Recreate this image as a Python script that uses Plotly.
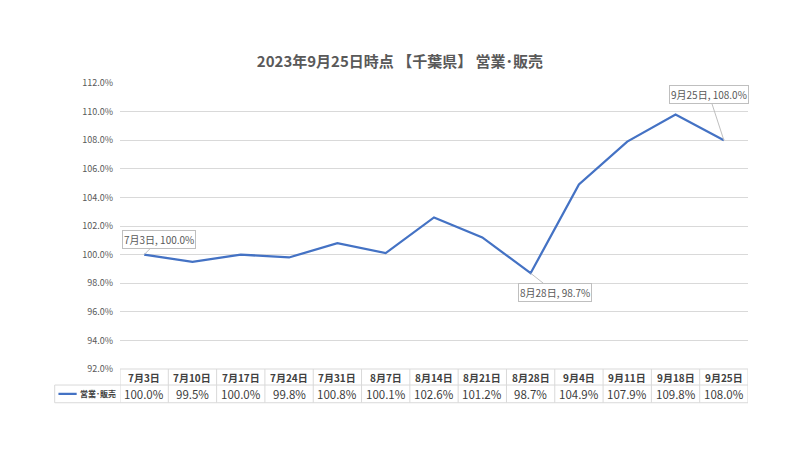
import plotly.graph_objects as go

# -----------------------------
# Data
# -----------------------------

weeks = ["7月3日", "7月10日", "7月17日", "7月24日", "7月31日", "8月7日", "8月14日",
         "8月21日", "8月28日", "9月4日", "9月11日", "9月18日", "9月25日"]
sales = [100.0, 99.5, 100.0, 99.8, 100.8, 100.1, 102.6, 101.2, 98.7, 104.9, 107.9, 109.8, 108.0]
series_name = "営業･販売"
title_text = "2023年9月25日時点 【千葉県】 営業･販売"

# callouts: index -> (ax, ay)
callouts = {0: (15, -15), 8: (24, 19), 12: (-15, -46)}

FONT = "Noto Sans CJK JP"
GREY = "#595959"
LINE = "#4472C4"
BORDER = "#d9d9d9"

fig = go.Figure()

fig.add_trace(go.Scatter(
    x=weeks,
    y=sales,
    mode="lines",
    line=dict(color=LINE, width=2.25),
    name=series_name,
    showlegend=False,
))

# -----------------------------
# Data labels (callouts)
# -----------------------------

for i, (ax, ay) in callouts.items():
    fig.add_annotation(
        x=weeks[i], y=sales[i],
        text=f"{weeks[i]}, {sales[i]:.1f}%",
        showarrow=True, arrowhead=0, arrowwidth=1, arrowcolor="#bfbfbf",
        ax=ax, ay=ay,
        font=dict(family=FONT, size=10, color=GREY),
        bgcolor="white", bordercolor="#bfbfbf", borderwidth=1, borderpad=1,
    )

# -----------------------------
# Data table below the plot
# -----------------------------

top, mid, bot = 0.0, -0.056, -0.118
leg_left = -0.104

shapes = []
n = len(weeks)
for i in range(n + 1):
    shapes.append(dict(type="line", xref="x", yref="paper", x0=i - 0.5, x1=i - 0.5,
                       y0=top, y1=bot, line=dict(color=BORDER, width=1)))
shapes.append(dict(type="line", xref="paper", yref="paper", x0=leg_left, x1=leg_left,
                   y0=mid, y1=bot, line=dict(color=BORDER, width=1)))
shapes.append(dict(type="line", xref="paper", yref="paper", x0=0, x1=1,
                   y0=top, y1=top, line=dict(color=BORDER, width=1)))
for yy in (mid, bot):
    shapes.append(dict(type="line", xref="paper", yref="paper", x0=leg_left, x1=1,
                       y0=yy, y1=yy, line=dict(color=BORDER, width=1)))
# legend key line
shapes.append(dict(type="line", xref="paper", yref="paper", x0=-0.098, x1=-0.069,
                   y0=(mid + bot) / 2, y1=(mid + bot) / 2, line=dict(color=LINE, width=2.25)))

for w, v in zip(weeks, sales):
    fig.add_annotation(x=w, y=(top + mid) / 2, xref="x", yref="paper", showarrow=False,
                       yanchor="middle", text=f"<b>{w}</b>",
                       font=dict(family=FONT, size=10, color="#404040"))
    fig.add_annotation(x=w, y=(mid + bot) / 2, xref="x", yref="paper", showarrow=False,
                       yanchor="middle", text=f"{v:.1f}%",
                       font=dict(family=FONT, size=11.5, color="#404040"))

fig.add_annotation(x=-0.003, y=(mid + bot) / 2, xref="paper", yref="paper", showarrow=False,
                   xanchor="right", yanchor="middle", text=f"<b>{series_name}</b>",
                   font=dict(family=FONT, size=8, color="#404040"))

# -----------------------------
# Layout
# -----------------------------

fig.update_layout(
    width=800,
    height=450,
    paper_bgcolor="white",
    plot_bgcolor="white",
    margin=dict(l=112, r=60, t=75, b=89),
    title=dict(text=f"<b>{title_text}</b>", x=0.49, xanchor="center", y=0.88, yanchor="middle",
               font=dict(family=FONT, size=15, color=GREY)),
    shapes=shapes,
    font=dict(family=FONT, color=GREY),
)

fig.update_xaxes(showticklabels=False, showgrid=False, zeroline=False, showline=False,
                 range=[-0.5, n - 0.5])
fig.update_yaxes(range=[92, 112], dtick=2, tickformat=".1f", ticksuffix="%",
                 showgrid=True, gridcolor=BORDER, gridwidth=1, zeroline=False,
                 tickfont=dict(family=FONT, size=9, color=GREY), ticks="", ticklabelstandoff=6)

fig.write_html("out.html")
